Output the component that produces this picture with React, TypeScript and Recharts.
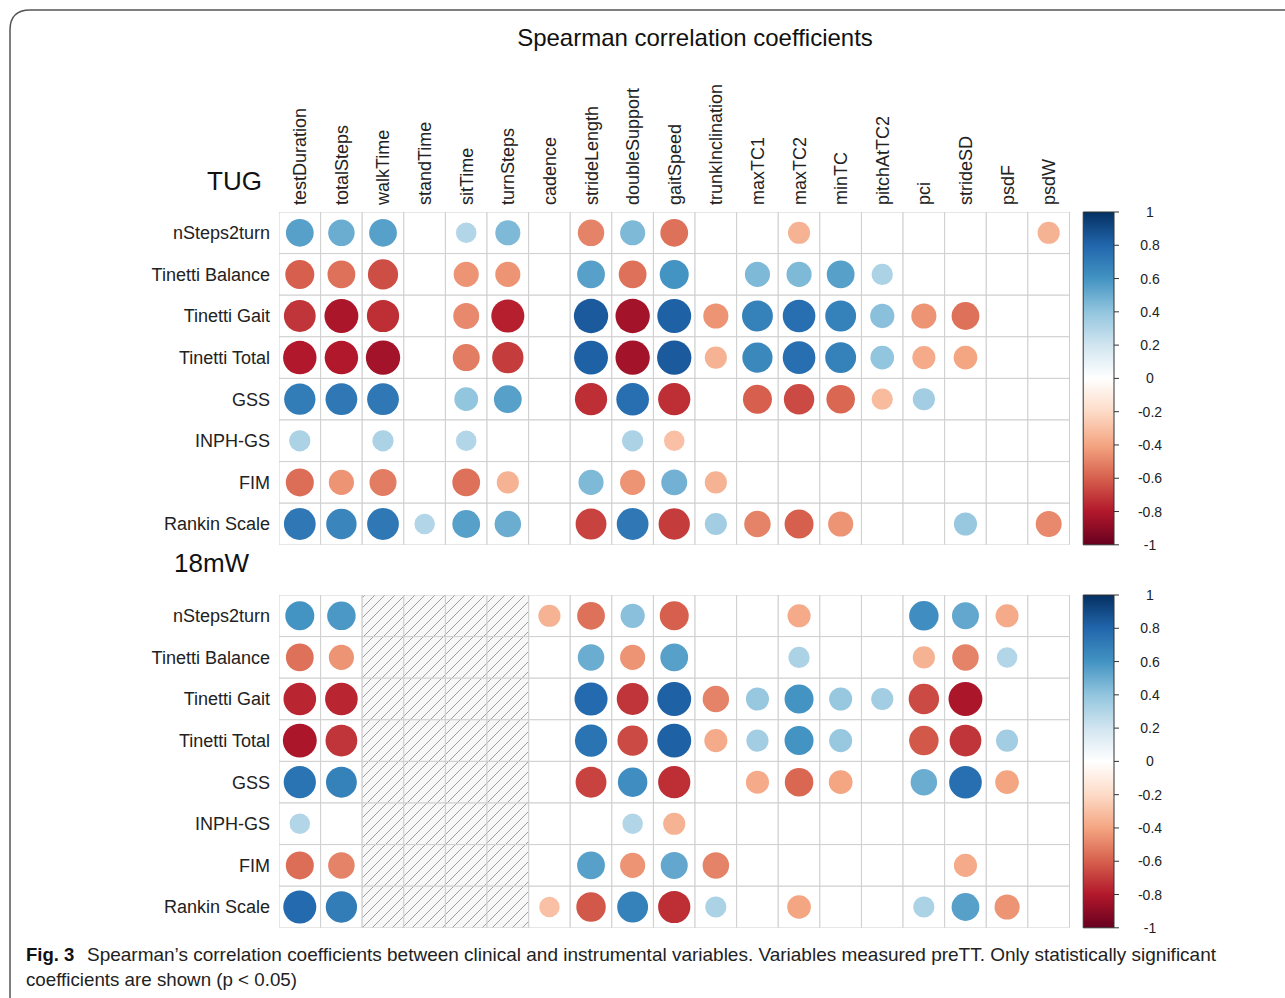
import React from 'react';
import { ScatterChart, Scatter, XAxis, YAxis, ReferenceArea } from 'recharts';

const columns = ['testDuration', 'totalSteps', 'walkTime', 'standTime', 'sitTime', 'turnSteps', 'cadence', 'strideLength', 'doubleSupport', 'gaitSpeed', 'trunkInclination', 'maxTC1', 'maxTC2', 'minTC', 'pitchAtTC2', 'pci', 'strideSD', 'psdF', 'psdW'];
const rows = ['nSteps2turn', 'Tinetti Balance', 'Tinetti Gait', 'Tinetti Total', 'GSS', 'INPH-GS', 'FIM', 'Rankin Scale'];
const colorbarTicks = [1, 0.8, 0.6, 0.4, 0.2, 0, -0.2, -0.4, -0.6, -0.8, -1];
const colorbarLabels = ['1', '0.8', '0.6', '0.4', '0.2', '0', '-0.2', '-0.4', '-0.6', '-0.8', '-1'];

const _ = null;
// TUG panel: rows x columns (null = not significant)
const tugValues: (number | null)[][] = [
  [0.55, 0.5, 0.55, _, 0.3, 0.45, _, -0.5, 0.45, -0.55, _, _, -0.35, _, _, _, _, _, -0.35],
  [-0.6, -0.55, -0.65, _, -0.45, -0.45, _, 0.55, -0.55, 0.6, _, 0.45, 0.45, 0.55, 0.32, _, _, _, _],
  [-0.72, -0.82, -0.74, _, -0.48, -0.78, _, 0.84, -0.84, 0.82, -0.45, 0.68, 0.76, 0.68, 0.42, -0.45, -0.55, _, _],
  [-0.8, -0.8, -0.84, _, -0.52, -0.7, _, 0.82, -0.84, 0.84, -0.35, 0.65, 0.76, 0.68, 0.4, -0.38, -0.4, _, _],
  [0.7, 0.72, 0.72, _, 0.4, 0.55, _, -0.74, 0.76, -0.74, _, -0.6, -0.66, -0.58, -0.32, 0.35, _, _, _],
  [0.32, _, 0.32, _, 0.3, _, _, _, 0.32, -0.3, _, _, _, _, _, _, _, _, _],
  [-0.56, -0.45, -0.52, _, -0.55, -0.35, _, 0.45, -0.45, 0.48, -0.35, _, _, _, _, _, _, _, _],
  [0.72, 0.66, 0.72, 0.3, 0.55, 0.5, _, -0.68, 0.72, -0.7, 0.35, -0.5, -0.6, -0.45, _, _, 0.38, _, -0.48],
];

// 18mW panel
const mw18Values: (number | null)[][] = [
  [0.6, 0.58, _, _, _, _, -0.35, -0.55, 0.42, -0.6, _, _, -0.38, _, _, 0.62, 0.52, -0.38, _],
  [-0.55, -0.45, _, _, _, _, _, 0.5, -0.45, 0.55, _, _, 0.32, _, _, -0.35, -0.5, 0.3, _],
  [-0.76, -0.76, _, _, _, _, _, 0.78, -0.72, 0.82, -0.5, 0.38, 0.6, 0.38, 0.35, -0.66, -0.82, _, _],
  [-0.82, -0.72, _, _, _, _, _, 0.74, -0.66, 0.82, -0.38, 0.35, 0.6, 0.38, _, -0.62, -0.72, 0.35, _],
  [0.74, 0.68, _, _, _, _, _, -0.68, 0.62, -0.74, _, -0.38, -0.58, -0.4, _, 0.5, 0.76, -0.4, _],
  [0.3, _, _, _, _, _, _, _, 0.3, -0.35, _, _, _, _, _, _, _, _, _],
  [-0.56, -0.5, _, _, _, _, _, 0.55, -0.45, 0.52, -0.5, _, _, _, _, _, -0.38, _, _],
  [0.78, 0.7, _, _, _, _, -0.3, -0.62, 0.68, -0.74, 0.32, _, -0.4, _, _, 0.32, 0.55, -0.45, _],
];
const mw18Hatched = ['walkTime', 'standTime', 'sitTime', 'turnSteps'];

// RdBu palette (corrplot COL2)
const palette = ['#67001F', '#B2182B', '#D6604D', '#F4A582', '#FDDBC7', '#FFFFFF', '#D1E5F0', '#92C5DE', '#4393C3', '#2166AC', '#053061'];

const hex = (h: string) => [parseInt(h.slice(1, 3), 16), parseInt(h.slice(3, 5), 16), parseInt(h.slice(5, 7), 16)];
const colorFor = (v: number) => {
  const t = ((v + 1) / 2) * (palette.length - 1);
  const i = Math.min(Math.floor(t), palette.length - 2);
  const f = t - i;
  const a = hex(palette[i]);
  const b = hex(palette[i + 1]);
  const c = a.map((x, k) => Math.round(x + (b[k] - x) * f));
  return `rgb(${c[0]},${c[1]},${c[2]})`;
};

const CELL = 41.6;
const XMAX = 20.07;
const CB_X1 = 19.33;
const FONT = '"Liberation Sans", Arial, sans-serif';

const buildCells = () => {
  const out: any[] = [];
  rows.forEach((r, ri) => columns.forEach((c, ci) => out.push({ x: ci + 0.5, y: ri + 0.5, row: r, col: c })));
  return out;
};
const buildCircles = (vals: (number | null)[][]) => {
  const out: any[] = [];
  vals.forEach((rv, ri) => rv.forEach((v, ci) => {
    if (v !== null) out.push({ x: ci + 0.5, y: ri + 0.5, value: v });
  }));
  return out;
};
// anchor points so the colour-bar axis has data
const colorbarAnchors = [{ x: CB_X1, y: -1 }, { x: XMAX, y: 1 }];

const cellShape = (fill: string) => (p: any) => (
  <rect x={p.cx - CELL / 2} y={p.cy - CELL / 2} width={CELL} height={CELL} fill={fill} stroke="#cfcfcf" strokeWidth={1} />
);
const circleShape = (p: any) => {
  const v = p.payload.value;
  return <circle cx={p.cx} cy={p.cy} r={0.45 * Math.sqrt(Math.abs(v)) * CELL} fill={colorFor(v)} />;
};
const emptyShape = () => <g />;

const ColTick = (p: any) => (
  <g transform={`translate(${p.x},${p.y}) rotate(-90)`}>
    <text x={0} y={0} dy="0.36em" textAnchor="start" fontSize={18} fontFamily={FONT} fill="#222">
      {columns[Math.floor(p.payload.value)]}
    </text>
  </g>
);
const RowTick = (p: any) => (
  <text x={p.x} y={p.y} dy="0.36em" textAnchor="end" fontSize={18} fontFamily={FONT} fill="#222">
    {rows[Math.floor(p.payload.value)]}
  </text>
);
const CbTick = (p: any) => {
  const idx = colorbarTicks.findIndex((t) => Math.abs(t - p.payload.value) < 1e-6);
  return (
    <text x={p.x + 29} y={p.y} dy="0.36em" textAnchor="middle" fontSize={14} fontFamily={FONT} fill="#222">
      {colorbarLabels[idx]}
    </text>
  );
};

const Panel = ({ values, hatched, showCols, height, top, bottom }: any) => {
  const cells = buildCells();
  const hatchCells = cells.filter((c) => hatched.includes(c.col));
  const circles = buildCircles(values);
  const yTicks = rows.map((_r, i) => i + 0.5);
  const xTicks = columns.map((_c, i) => i + 0.5);
  return (
    <ScatterChart width={1285} height={height} margin={{ top, right: 111, bottom, left: 79 }}>
      <XAxis
        dataKey="x"
        type="number"
        domain={[0, XMAX]}
        ticks={xTicks}
        orientation="top"
        height={130}
        hide={!showCols}
        axisLine={false}
        tickLine={false}
        tickSize={0}
        tickMargin={7}
        interval={0}
        tick={<ColTick />}
        allowDataOverflow
      />
      <YAxis
        yAxisId="rows"
        dataKey="y"
        type="number"
        domain={[0, 8]}
        reversed
        ticks={yTicks}
        width={200}
        axisLine={false}
        tickLine={false}
        tickSize={0}
        tickMargin={9}
        interval={0}
        tick={<RowTick />}
        allowDataOverflow
      />
      <YAxis
        yAxisId="cb"
        dataKey="y"
        orientation="right"
        type="number"
        domain={[-1, 1]}
        ticks={colorbarTicks}
        width={60}
        axisLine={false}
        tickLine={{ stroke: '#333', strokeWidth: 1 }}
        tickSize={5}
        tickMargin={2}
        interval={0}
        tick={<CbTick />}
        allowDataOverflow
      />
      <Scatter yAxisId="cb" data={colorbarAnchors} shape={emptyShape} isAnimationActive={false} />
      <Scatter yAxisId="rows" data={cells} shape={cellShape('#ffffff')} isAnimationActive={false} />
      <Scatter yAxisId="rows" data={hatchCells} shape={cellShape('url(#hatchPat)')} isAnimationActive={false} />
      <Scatter yAxisId="rows" data={circles} shape={circleShape} isAnimationActive={false} />
      <ReferenceArea yAxisId="cb" x1={CB_X1} x2={XMAX} y1={-1} y2={1} fill="url(#rdbuGrad)" fillOpacity={1} stroke="#333" strokeWidth={1} ifOverflow="visible" />
    </ScatterChart>
  );
};

export default function App() {
  return (
    <div style={{ position: 'absolute', left: 0, top: 0, width: 1285, height: 998, background: '#fff', overflow: 'hidden' }}>
      <svg width={0} height={0} style={{ position: 'absolute' }}>
        <defs>
          <linearGradient id="rdbuGrad" x1="0" y1="0" x2="0" y2="1">
            {palette.slice().reverse().map((c, i) => (
              <stop key={i} offset={`${(i / (palette.length - 1)) * 100}%`} stopColor={c} />
            ))}
          </linearGradient>
          <pattern id="hatchPat" patternUnits="userSpaceOnUse" width={10} height={10}>
            <rect width={10} height={10} fill="#f7f7f7" />
            <path d="M-2,2 l4,-4 M0,10 l10,-10 M8,12 l4,-4" stroke="#808080" strokeWidth={0.75} />
          </pattern>
        </defs>
      </svg>
      <div style={{ position: 'absolute', left: 0, top: 0 }}>
        <Panel values={tugValues} hatched={[]} showCols={true} height={560} top={82} bottom={15.2} />
      </div>
      <div style={{ position: 'absolute', left: 0, top: 560 }}>
        <Panel values={mw18Values} hatched={mw18Hatched} showCols={false} height={390} top={35} bottom={22.2} />
      </div>
      <svg width={1285} height={998} style={{ position: 'absolute', left: 0, top: 0, pointerEvents: 'none' }}>
        <path d="M 10 1000 L 10 30 Q 10 10 30 10 L 1290 10" fill="none" stroke="#555" strokeWidth={1.5} />
        <text x={695} y={46} textAnchor="middle" fontSize={24} fontFamily={FONT} fill="#111">Spearman correlation coefficients</text>
        <text x={207} y={190} fontSize={26} fontFamily={FONT} fill="#111">TUG</text>
        <text x={174} y={572} fontSize={26} fontFamily={FONT} fill="#111">18mW</text>
        <text x={26} y={961} fontSize={18.5} fontFamily={FONT} fontWeight="bold" fill="#111">Fig. 3</text>
        <text x={87} y={961} fontSize={18.5} fontFamily={FONT} fill="#222" textLength={1129} lengthAdjust="spacingAndGlyphs">
          Spearman’s correlation coefficients between clinical and instrumental variables. Variables measured preTT. Only statistically significant
        </text>
        <text x={26} y={986} fontSize={18.5} fontFamily={FONT} fill="#222" textLength={271} lengthAdjust="spacingAndGlyphs">
          coefficients are shown (p {'<'} 0.05)
        </text>
      </svg>
    </div>
  );
}
